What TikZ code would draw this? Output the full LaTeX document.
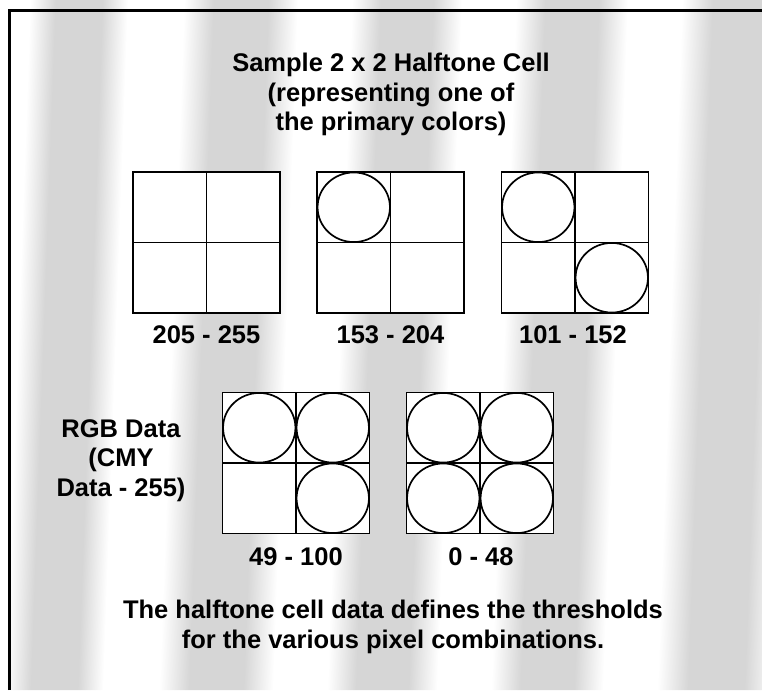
\documentclass[tikz,border=0pt]{standalone}
\usepackage{fontspec}
\setmainfont{Liberation Sans}
\usetikzlibrary{calc}

% soft vertical stripe of the screened background
\definecolor{bandgray}{gray}{0.84}
\pgfdeclarehorizontalshading{bandshade}{100bp}{%
  color(0bp)=(white); color(25bp)=(white); color(38bp)=(bandgray);
  color(62bp)=(bandgray); color(75bp)=(white); color(100bp)=(white)}

\tikzset{
  cell/.style={draw, line width=1.7pt, fill=white, minimum width=147pt,
    minimum height=141pt, inner sep=0pt, outer sep=0pt},
  divider/.style={line width=1.3pt},
  dot/.style={line width=1.7pt},
  caption/.style={font=\fontsize{25.5}{29.5}\selectfont\bfseries,
    inner sep=0pt, align=center},
  frameline/.style={line width=3pt},
}

% a 2x2 halftone cell: name, centre, list of inked quadrants
\newcommand{\halftonecell}[3]{%
  \node[cell] (#1) at (#2) {};
  \draw[divider] (#1.north) -- (#1.south);
  \draw[divider] (#1.west) -- (#1.east);
  \foreach \q in {#3} {
    \draw[dot] ($(#1.center)!0.5!(#1.\q)$) ellipse [x radius=36.2pt, y radius=34.8pt];
  }%
}

\begin{document}
\begin{tikzpicture}[x=1pt,y=-1pt]
\useasboundingbox (0,0) rectangle (762,690);

% screened background stripes
\begin{scope}[transform canvas={xslant=0.036}]
  \foreach \a/\b in {30/128, 184/298, 352/462, 516/628, 682/800} {
    \shade[shading=bandshade] (\a,0) rectangle (\b,690);
  }
\end{scope}

% frame corner
\coordinate (fbl) at (9,690);
\coordinate (ftl) at (9,11);
\coordinate (ftr) at (762,11);
\draw[frameline] (fbl) -- (ftl) -- (ftr);

% title (base anchor sits on the last line)
\node[caption, anchor=base] (title) at (391,131)
  {Sample 2 x 2 Halftone Cell\\(representing one of\\the primary colors)};

% first row of cells
\halftonecell{cellA}{206.5,242.5}{}
\halftonecell{cellB}{390.5,242.5}{north west}
\halftonecell{cellC}{575,242.5}{north west,south east}

\node[caption, anchor=base] (labA) at (206.5,343) {205 - 255};
\node[caption, anchor=base] (labB) at (390.5,343) {153 - 204};
\node[caption, anchor=base] (labC) at (573,343) {101 - 152};

% second row of cells
\halftonecell{cellD}{296,463}{north west,north east,south east}
\halftonecell{cellE}{480,463}{north west,north east,south west,south east}

\node[caption, anchor=base] (labD) at (296,565) {49 - 100};
\node[caption, anchor=base] (labE) at (481,565) {0 - 48};

% side note
\node[caption, anchor=base] (rgb) at (121,496) {RGB Data\\(CMY\\Data - 255)};

% closing remark
\node[caption, anchor=base] (note) at (393,648)
  {The halftone cell data defines the thresholds\\for the various pixel combinations.};
\end{tikzpicture}
\end{document}
